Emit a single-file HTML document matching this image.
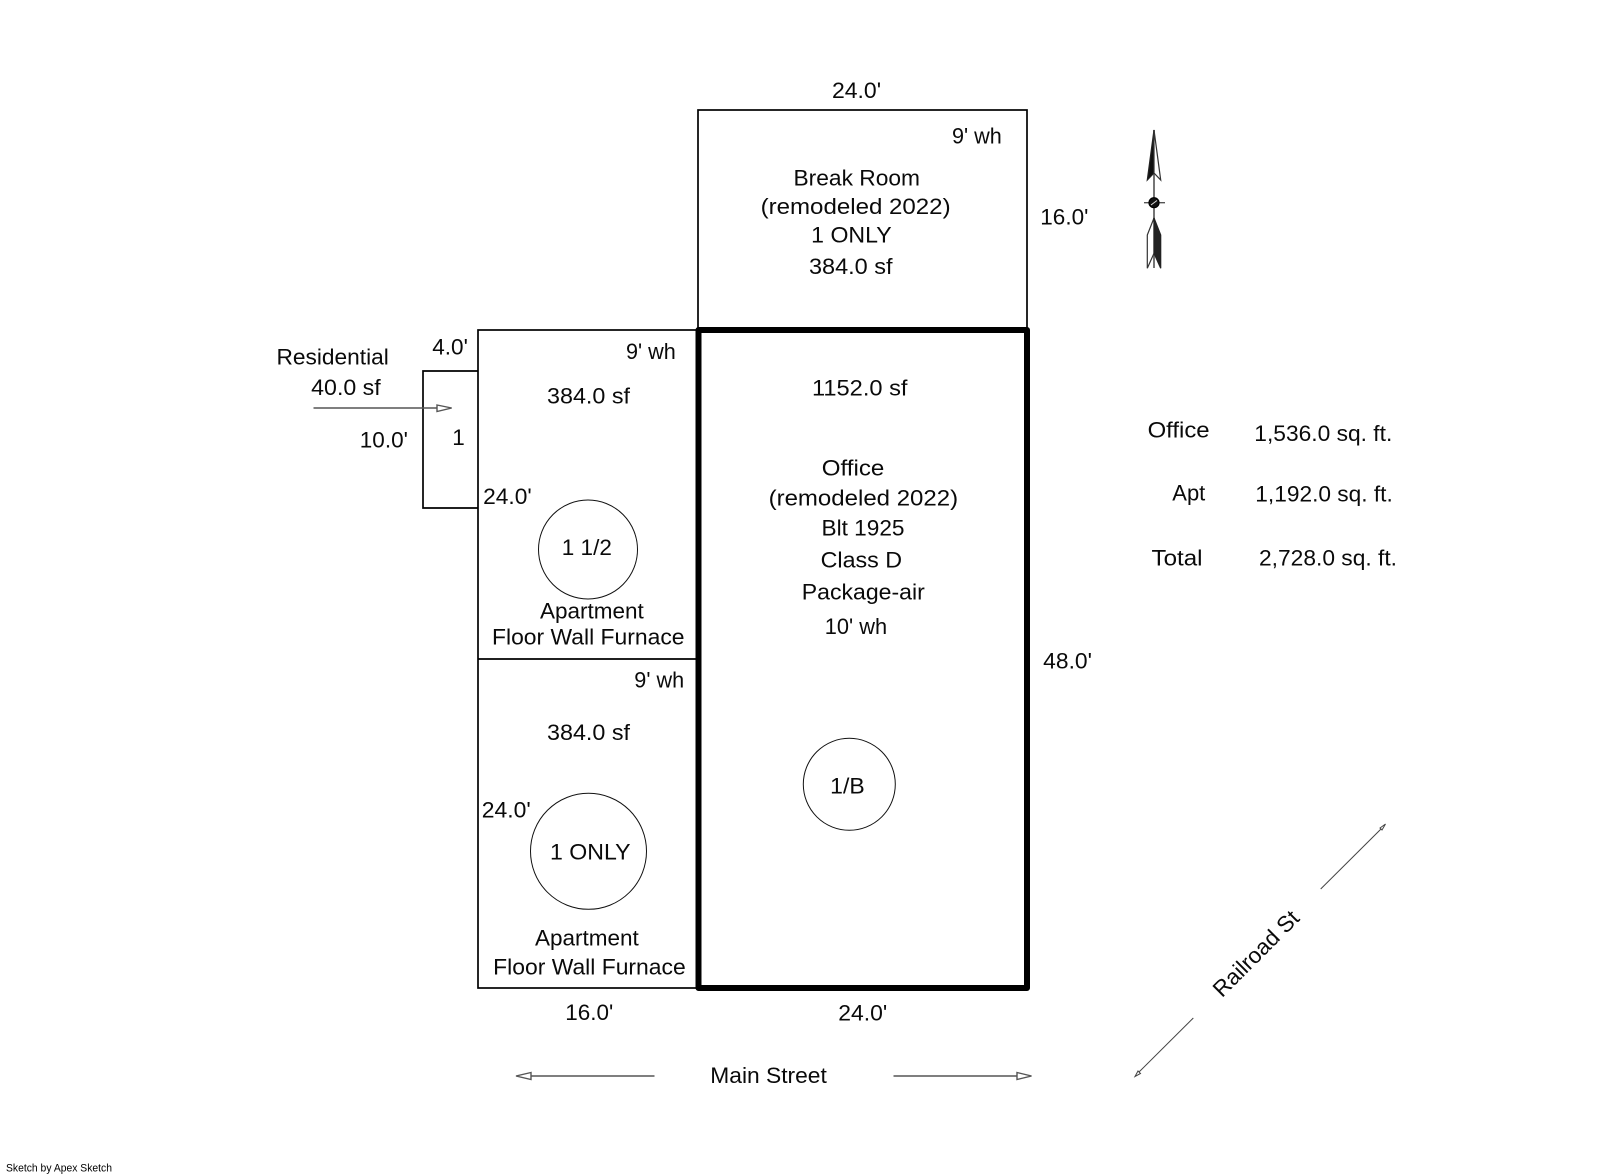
<!DOCTYPE html>
<html><head><meta charset="utf-8"><style>
html,body{margin:0;padding:0;background:#fff;width:1601px;height:1174px;overflow:hidden}
svg{display:block}
text{font-family:"Liberation Sans",Arial,sans-serif;font-size:22.5px;fill:#0a0a0a}
</style></head><body>
<svg width="1601" height="1174" viewBox="0 0 1601 1174" xmlns="http://www.w3.org/2000/svg">
<rect width="1601" height="1174" fill="#fff"/>
<g fill="none" stroke="#000" stroke-width="1.7">
<rect x="698" y="110" width="329" height="220"/>
<rect x="478" y="330" width="220.5" height="658"/>
<line x1="478" y1="659" x2="698" y2="659"/>
<polyline points="478,371 423,371 423,508 478,508"/>
</g>
<rect x="698.5" y="330" width="328.5" height="658" fill="none" stroke="#000" stroke-width="6" stroke-linejoin="round"/>
<g fill="none" stroke="#111" stroke-width="1">
<circle cx="588" cy="549.5" r="49.5"/>
<circle cx="588.5" cy="851.3" r="58"/>
<circle cx="849.3" cy="784.3" r="46"/>
</g>
<!-- arrows -->
<g fill="#fff" stroke="#555" stroke-width="1.4">
<line x1="313.5" y1="408" x2="437" y2="408"/>
<polygon points="437,405 451.7,408 437,411.5"/>
<line x1="531" y1="1076" x2="654.5" y2="1076"/>
<polygon points="531,1072.5 516,1076 531,1079.5"/>
<line x1="893.5" y1="1076" x2="1017" y2="1076"/>
<polygon points="1017,1072.5 1031.5,1076 1017,1079.5"/>
</g>
<g fill="#fff" stroke="#444" stroke-width="1">
<line x1="1320.7" y1="889" x2="1381" y2="829"/>
<polygon points="1380,828 1385.5,824 1382,830"/>
<line x1="1193.3" y1="1018" x2="1139" y2="1072"/>
<polygon points="1138,1071 1135,1076.5 1140.5,1073.5"/>
</g>
<!-- compass -->
<g>
<line x1="1154" y1="130" x2="1154" y2="268" stroke="#666" stroke-width="1.8"/>
<polygon points="1154,130 1147.3,180 1154,173" fill="#111" stroke="#222" stroke-width="1.2"/>
<polygon points="1154,130 1160.7,180 1154,173" fill="#fff" stroke="#333" stroke-width="1.2"/>
<line x1="1144" y1="202.7" x2="1165" y2="202.7" stroke="#555" stroke-width="1.4"/>
<circle cx="1154" cy="202.7" r="5" fill="#111" stroke="#000" stroke-width="1.2"/>
<line x1="1151" y1="205" x2="1157" y2="200.5" stroke="#ddd" stroke-width="1"/>
<polygon points="1154,218 1147.3,235 1147.3,268.3 1154,253.3" fill="#fff" stroke="#333" stroke-width="1.2"/>
<polygon points="1154,218 1160.7,235 1160.7,268.3 1154,253.3" fill="#222" stroke="#222" stroke-width="1.2"/>
</g>
<!-- labels -->
<text x="832" y="98" textLength="49.1" lengthAdjust="spacingAndGlyphs">24.0'</text>
<text x="952" y="143.3" textLength="49.8" lengthAdjust="spacingAndGlyphs">9' wh</text>
<text x="793.5" y="185.7" textLength="126.5" lengthAdjust="spacingAndGlyphs">Break Room</text>
<text x="760.6" y="214" textLength="190" lengthAdjust="spacingAndGlyphs">(remodeled 2022)</text>
<text x="811.2" y="242.7" textLength="80.5" lengthAdjust="spacingAndGlyphs">1 ONLY</text>
<text x="809" y="274" textLength="83.5" lengthAdjust="spacingAndGlyphs">384.0 sf</text>
<text x="1040.3" y="224.3">16.0'</text>
<text x="276.5" y="364.5" textLength="112.3" lengthAdjust="spacingAndGlyphs">Residential</text>
<text x="311.2" y="395" textLength="69.5" lengthAdjust="spacingAndGlyphs">40.0 sf</text>
<text x="432.3" y="354.3">4.0'</text>
<text x="359.8" y="447.3">10.0'</text>
<text x="452.2" y="445">1</text>
<text x="483.1" y="504" textLength="48.6" lengthAdjust="spacingAndGlyphs">24.0'</text>
<text x="626" y="359" textLength="49.8" lengthAdjust="spacingAndGlyphs">9' wh</text>
<text x="547" y="403.3" textLength="83" lengthAdjust="spacingAndGlyphs">384.0 sf</text>
<text x="561.8" y="555">1 1/2</text>
<text x="540" y="618.3">Apartment</text>
<text x="492" y="644.3" textLength="192.5" lengthAdjust="spacingAndGlyphs">Floor Wall Furnace</text>
<text x="634.3" y="687.7" textLength="49.8" lengthAdjust="spacingAndGlyphs">9' wh</text>
<text x="547" y="740" textLength="83" lengthAdjust="spacingAndGlyphs">384.0 sf</text>
<text x="481.8" y="817.7" textLength="49" lengthAdjust="spacingAndGlyphs">24.0'</text>
<text x="550" y="859.3" textLength="80.5" lengthAdjust="spacingAndGlyphs">1 ONLY</text>
<text x="535" y="945.7">Apartment</text>
<text x="493.2" y="974.3" textLength="192.5" lengthAdjust="spacingAndGlyphs">Floor Wall Furnace</text>
<text x="565.3" y="1020" textLength="48" lengthAdjust="spacingAndGlyphs">16.0'</text>
<text x="812" y="395.7" textLength="95.5" lengthAdjust="spacingAndGlyphs">1152.0 sf</text>
<text x="821.8" y="475.7" textLength="62.5" lengthAdjust="spacingAndGlyphs">Office</text>
<text x="768.6" y="505.7" textLength="189.5" lengthAdjust="spacingAndGlyphs">(remodeled 2022)</text>
<text x="821.5" y="535.7" textLength="83" lengthAdjust="spacingAndGlyphs">Blt 1925</text>
<text x="820.6" y="567.3" textLength="81.5" lengthAdjust="spacingAndGlyphs">Class D</text>
<text x="801.8" y="599.3" textLength="123" lengthAdjust="spacingAndGlyphs">Package-air</text>
<text x="824.8" y="634" textLength="62.3" lengthAdjust="spacingAndGlyphs">10' wh</text>
<text x="1043.2" y="668.3" textLength="48.8" lengthAdjust="spacingAndGlyphs">48.0'</text>
<text x="1147.6" y="437.3" textLength="62" lengthAdjust="spacingAndGlyphs">Office</text>
<text x="1254.3" y="441" textLength="138" lengthAdjust="spacingAndGlyphs">1,536.0 sq. ft.</text>
<text x="1172.3" y="500.7" textLength="33" lengthAdjust="spacingAndGlyphs">Apt</text>
<text x="1255.3" y="501.7" textLength="137.5" lengthAdjust="spacingAndGlyphs">1,192.0 sq. ft.</text>
<text x="1151.5" y="565.7" textLength="51" lengthAdjust="spacingAndGlyphs">Total</text>
<text x="1259" y="565.7" textLength="138" lengthAdjust="spacingAndGlyphs">2,728.0 sq. ft.</text>
<text x="830.2" y="793.5" textLength="34.5" lengthAdjust="spacingAndGlyphs">1/B</text>
<text x="838.3" y="1020.5" textLength="49" lengthAdjust="spacingAndGlyphs">24.0'</text>
<text x="710.3" y="1083" textLength="116.5" lengthAdjust="spacingAndGlyphs">Main Street</text>
<text x="1222" y="998.3" transform="rotate(-45 1222 998.3)">Railroad St</text>
<text x="6" y="1171.7" style="font-size:11px;fill:#000" textLength="106" lengthAdjust="spacingAndGlyphs">Sketch by Apex Sketch</text>
</svg>
</body></html>
